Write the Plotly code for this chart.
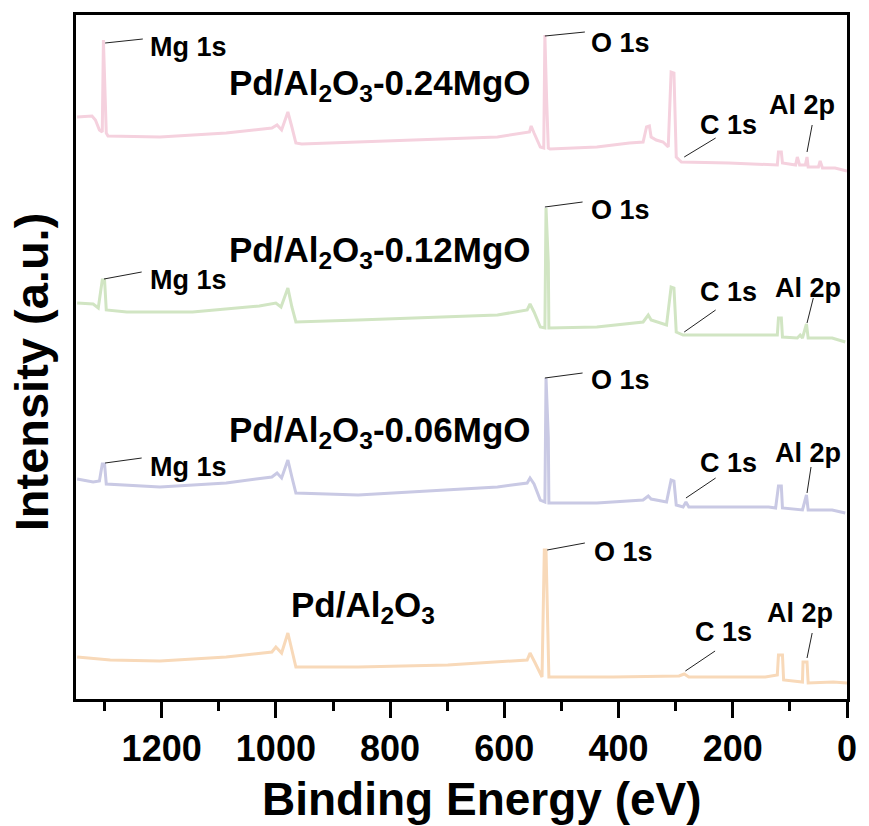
import plotly.graph_objects as go

# ---------------- data (binding energy in eV, intensity in a.u. incl. stacking offset) -------------
be_024 = [1348,1322,1316,1309,1304,1302,1297,1294,1203,1087,1007,998,990,979,972,965,955,856,612,556,553,548,537,531,529,526,523,520,438,381,357,351,346,343,334,322,313,308,303,299,290,207,122,120,115,113,90,87,83,73,70,68,50,47,43,21,0]
int_024 = [582,583,579,569,567,659,566,563,562,566,571,574,569,587,572,556,555,557,562,567,573,566,552,551,664,600,551,550,552,556,557,572,573,562,559,557,552,627,626,542,537,536,534,547,547,536,534,542,534,534,542,532,532,538,531,531,528]

be_012 = [1348,1320,1311,1304,1300,1297,1261,1146,1029,1000,991,979,972,965,856,612,560,555,548,537,529,527,523,522,438,357,348,343,316,308,303,299,287,207,122,120,115,113,87,82,78,71,68,26,3]
int_012 = [396,395,391,419,419,389,387,387,393,396,392,411,392,377,379,384,389,395,387,372,371,491,436,371,372,377,384,379,374,412,411,367,364,364,364,381,381,362,361,364,361,375,361,361,357]

be_006 = [1348,1320,1309,1304,1300,1297,1203,1087,1007,998,990,979,972,965,856,612,560,555,548,537,529,527,523,522,438,357,348,343,316,308,303,299,287,282,277,207,137,125,120,115,113,78,71,68,26,3]
int_006 = [220,217,218,235,235,215,212,216,222,226,221,239,222,206,204,212,216,221,215,199,197,321,262,196,196,199,203,200,197,219,218,194,192,197,192,192,192,191,213,213,191,189,204,189,189,186]

be_000 = [1348,1290,1203,1087,1007,1000,990,979,972,965,856,699,560,555,546,534,530,527,522,409,294,285,277,143,122,120,113,111,78,77,70,68,24,0]
int_000 = [42,39,38,42,47,52,46,66,49,32,32,34,39,46,36,22,149,149,22,22,23,25,22,22,24,44,44,19,17,37,37,16,17,16]

sample_names = ["Pd/Al<sub>2</sub>O<sub>3</sub>-0.24MgO", "Pd/Al<sub>2</sub>O<sub>3</sub>-0.12MgO",
                "Pd/Al<sub>2</sub>O<sub>3</sub>-0.06MgO", "Pd/Al<sub>2</sub>O<sub>3</sub>"]
x_ticks = [1200, 1000, 800, 600, 400, 200, 0]
x_tick_text = ["1200", "1000", "800", "600", "400", "200", "0"]
x_title = "Binding Energy (eV)"
y_title = "Intensity (a.u.)"

# ---------------- styling / placement -------------
colors = ["#F5D1DE", "#D1E5C3", "#C9C9E4", "#F8D9B9"]
FONT = "Liberation Sans, Arial, sans-serif"

# plot area in page pixels (for placing the axis titles)
PL, PR, PT, PB = 76, 852, 15, 699

# sample label positions (x left, y middle)
name_pos = [(1085, 614), (1085, 447), (1085, 267), (977, 92)]

# peak labels: text, line start (x,y), line end (x,y), text pos (x,y), xanchor
peak_labels = [
    ("Mg 1s", (1299, 656), (1233, 660), (1224, 652), "left"),
    ("O 1s", (529, 663), (459, 667), (452, 656), "left"),
    ("C 1s", (285, 542), (230, 561), (207, 574), "center"),
    ("Al 2p", (70, 547), (61, 574), (78, 594), "center"),
    ("Mg 1s", (1301, 420), (1235, 427), (1224, 419), "left"),
    ("O 1s", (529, 492), (463, 497), (452, 489), "left"),
    ("C 1s", (285, 367), (230, 389), (207, 407), "center"),
    ("Al 2p", (70, 376), (59, 401), (68, 411), "center"),
    ("Mg 1s", (1299, 236), (1235, 241), (1224, 232), "left"),
    ("O 1s", (529, 321), (463, 326), (452, 319), "left"),
    ("C 1s", (282, 201), (230, 221), (207, 236), "center"),
    ("Al 2p", (70, 206), (63, 232), (68, 246), "center"),
    ("O 1s", (525, 149), (459, 156), (447, 147), "left"),
    ("C 1s", (283, 28), (231, 48), (217, 67), "center"),
    ("Al 2p", (70, 41), (61, 66), (82, 86), "center"),
]

fig = go.Figure()
for be, inten, col, name in zip([be_024, be_012, be_006, be_000],
                                [int_024, int_012, int_006, int_000], colors, sample_names):
    fig.add_trace(go.Scatter(x=be, y=inten, mode="lines", name=name,
                             line=dict(color=col, width=3), showlegend=False))

annotations = []
shapes = []
for name, (nx, ny) in zip(sample_names, name_pos):
    annotations.append(dict(x=nx, y=ny, xref="x", yref="y", text=name, showarrow=False,
                            xanchor="left", yanchor="middle",
                            font=dict(family=FONT, size=35, color="black", weight="bold")))
for txt, p0, p1, pt, anc in peak_labels:
    shapes.append(dict(type="line", xref="x", yref="y", x0=p0[0], y0=p0[1], x1=p1[0], y1=p1[1],
                       line=dict(color="#222222", width=1)))
    annotations.append(dict(x=pt[0], y=pt[1], xref="x", yref="y", text=txt, showarrow=False,
                            xanchor=anc, yanchor="middle",
                            font=dict(family=FONT, size=27, color="black", weight="bold")))

# axis titles
annotations.append(dict(x=(485 - PL) / (PR - PL), y=(PB - 799) / (PB - PT),
                        xref="paper", yref="paper", text=x_title,
                        showarrow=False, xanchor="center", yanchor="middle",
                        font=dict(family=FONT, size=46, color="black", weight="bold")))
annotations.append(dict(x=(32 - PL) / (PR - PL), y=(PB - 372) / (PB - PT),
                        xref="paper", yref="paper", text=y_title, textangle=-90,
                        showarrow=False, xanchor="center", yanchor="middle",
                        font=dict(family=FONT, size=47, color="black", weight="bold")))

fig.update_layout(
    width=869, height=826,
    margin=dict(l=PL, r=869 - PR, t=PT, b=826 - PB),
    paper_bgcolor="white", plot_bgcolor="white",
    annotations=annotations, shapes=shapes,
    font=dict(family=FONT, color="black"),
)

fig.update_xaxes(range=[1350, 0], tickvals=x_ticks, ticktext=x_tick_text,
                 showline=True, linewidth=3, linecolor="black", mirror=True,
                 ticks="outside", ticklen=16, tickwidth=3, tickcolor="black",
                 minor=dict(dtick=100, tick0=0, ticks="outside", ticklen=9, tickwidth=3, tickcolor="black"),
                 showgrid=False, zeroline=False,
                 tickfont=dict(family=FONT, size=36, color="black", weight="bold"))
fig.update_yaxes(range=[0, 684], showline=True, linewidth=3, linecolor="black", mirror=True,
                 ticks="", showticklabels=False, showgrid=False, zeroline=False)

fig.write_html("out.html", config={"displayModeBar": False},
               post_script="document.body.style.margin='0px';document.body.style.overflow='hidden';")
